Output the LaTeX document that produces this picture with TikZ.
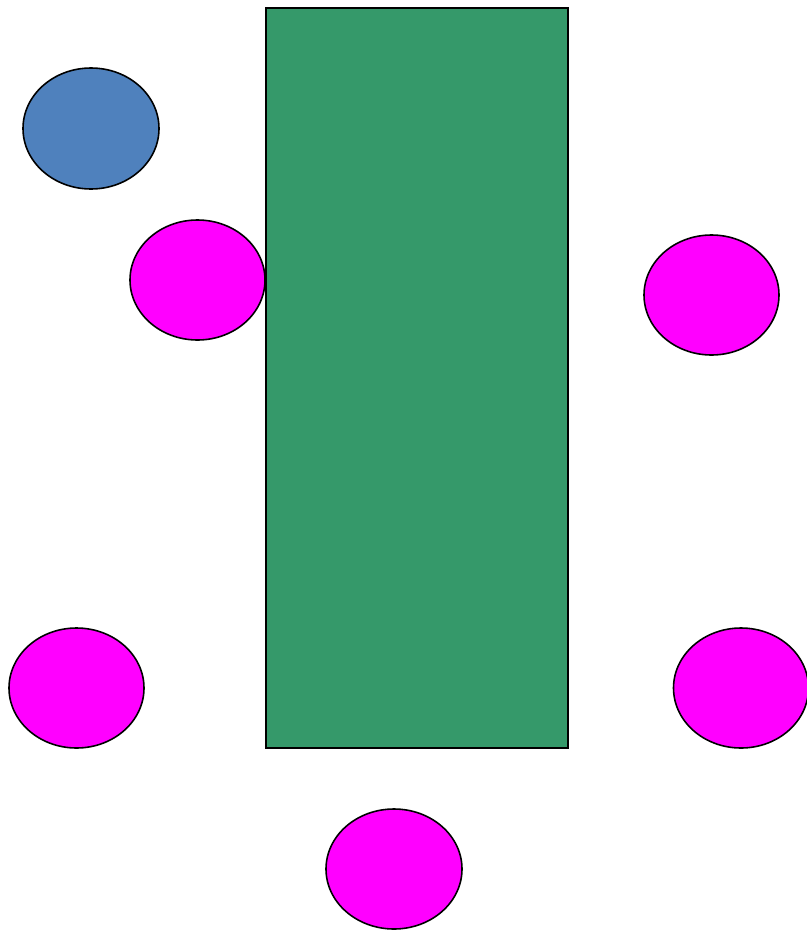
\documentclass[tikz,border=0pt]{standalone}
\usepackage{tikz}

\definecolor{tablegreen}{HTML}{35996A}
\definecolor{seatblue}{HTML}{4F81BD}
\definecolor{seatpink}{HTML}{FF00FF}

\tikzset{seat/.style={draw=black, line width=0.9pt, fill=seatpink}}

\begin{document}
\begin{tikzpicture}[x=0.02cm, y=-0.02cm]
    \useasboundingbox (0,0) rectangle (807,930);

    \filldraw[fill=tablegreen, line width=0.9pt] (266,8) rectangle (568,748);

    \filldraw[seat, fill=seatblue] (91,128.5) ellipse (68 and 60.5);

    \filldraw[seat] (197.5,280) ellipse (67.5 and 60);
    \filldraw[seat] (711.5,295) ellipse (67.5 and 60);
    \filldraw[seat] (76.5,688) ellipse (67.5 and 60);
    \filldraw[seat] (741,688) ellipse (67.5 and 60);
    \filldraw[seat] (394,869) ellipse (68 and 60);
\end{tikzpicture}
\end{document}
